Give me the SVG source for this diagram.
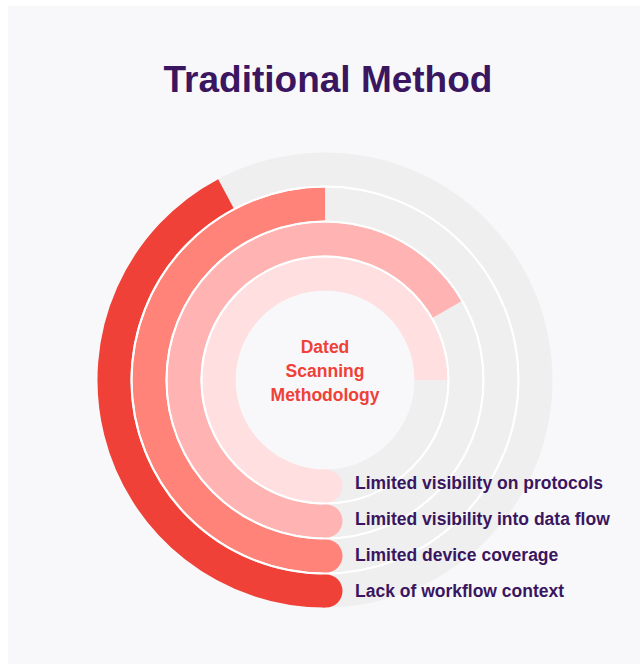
<svg xmlns="http://www.w3.org/2000/svg" width="640" height="664" viewBox="0 0 640 664">
  <style>
    .track { fill: none; stroke: #efefef; stroke-width: 33; }
    .arc { fill: none; stroke-width: 33; stroke-linecap: butt; }
    .sep { fill: none; stroke: #ffffff; stroke-width: 2; }
    .label { font-family: "Liberation Sans", Arial, sans-serif; font-weight: bold; font-size: 17.5px; fill: #3a1560; }
    .title { font-family: "Liberation Sans", Arial, sans-serif; font-weight: bold; font-size: 37px; fill: #3a1560; }
    .core { font-family: "Liberation Sans", Arial, sans-serif; font-weight: bold; font-size: 17.5px; fill: #ef4138; text-anchor: middle; }
  </style>

  <!-- panel -->
  <rect x="0" y="0" width="640" height="664" fill="#ffffff"/>
  <rect x="8" y="6" width="632" height="658" fill="#f8f8fa"/>

  <g id="title">
    <text class="title" x="328" y="92" text-anchor="middle">Traditional Method</text>
  </g>

  <!-- grey background tracks, one per ring -->
  <g id="tracks">
    <circle class="track" cx="325" cy="380" r="211"/>
    <circle class="track" cx="325" cy="380" r="176"/>
    <circle class="track" cx="325" cy="380" r="141"/>
    <circle class="track" cx="325" cy="380" r="106"/>
  </g>

  <!-- progress arcs, each starting at the bottom and running clockwise -->
  <g id="ring-workflow">
    <path class="arc" stroke="#ef4138" d="M325 591 A211 211 0 0 1 225.94 193.7"/>
  </g>
  <g id="ring-device">
    <path class="arc" stroke="#ff8379" d="M325 556 A176 176 0 0 1 325 204"/>
  </g>
  <g id="ring-dataflow">
    <path class="arc" stroke="#ffb3b2" d="M325 521 A141 141 0 1 1 447.11 309.5"/>
  </g>
  <g id="ring-protocols">
    <path class="arc" stroke="#ffdfe0" d="M325 486 A106 106 0 1 1 431 380"/>
  </g>

  <!-- thin white gaps between rings -->
  <g id="separators">
    <circle class="sep" cx="325" cy="380" r="193.5"/>
    <circle class="sep" cx="325" cy="380" r="158.5"/>
    <circle class="sep" cx="325" cy="380" r="123.5"/>
  </g>

  <!-- rounded start caps -->
  <g id="caps">
    <circle cx="326" cy="591" r="16.5" fill="#ef4138"/>
    <circle cx="326" cy="556" r="16.5" fill="#ff8379"/>
    <circle cx="326" cy="521" r="16.5" fill="#ffb3b2"/>
    <circle cx="326" cy="486" r="16.5" fill="#ffdfe0"/>
  </g>

  <g id="labels">
    <text class="label" x="355" y="489">Limited visibility on protocols</text>
    <text class="label" x="355" y="525">Limited visibility into data flow</text>
    <text class="label" x="355" y="561">Limited device coverage</text>
    <text class="label" x="355" y="597">Lack of workflow context</text>
  </g>

  <g id="core">
    <text class="core" x="325" y="353">Dated</text>
    <text class="core" x="325" y="377">Scanning</text>
    <text class="core" x="325" y="401">Methodology</text>
  </g>
</svg>
